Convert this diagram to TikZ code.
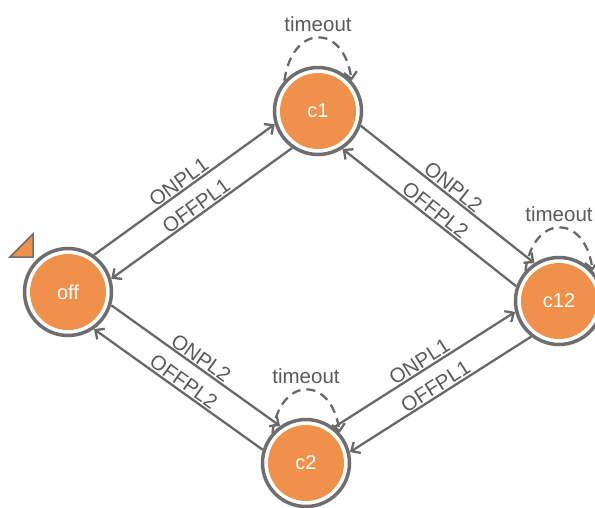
\documentclass[tikz,border=0pt]{standalone}
\usepackage{fontspec}
\setmainfont{Liberation Sans}
\usepackage{tikz}
\usetikzlibrary{arrows.meta,positioning}
\definecolor{StateOrange}{RGB}{239,145,74}
\definecolor{RingGray}{RGB}{110,110,110}
\definecolor{EdgeGray}{RGB}{105,105,105}
\definecolor{TextGray}{RGB}{90,90,90}
\tikzset{
  statenode/.style={circle,draw=RingGray,line width=3.5pt,fill=white,
    minimum size=87pt,inner sep=0pt,text=white,
    font=\fontsize{20}{24}\selectfont,
    path picture={\fill[StateOrange] (path picture bounding box.center) circle[radius=38pt];}},
  arrow/.style={-{Straight Barb[length=7pt,width=13pt]},line width=2.3pt,color=EdgeGray},
  looparrow/.style={arrow,dash pattern=on 9pt off 6pt},
  edgelabel/.style={font=\fontsize{20.5}{24}\selectfont,text=TextGray,inner sep=1pt}
}

\begin{document}
\begin{tikzpicture}[x=1pt,y=-1pt]
  \useasboundingbox (0,0) rectangle (595,507);
  % states
  \node[statenode] (off) at (68,292) {off};
  \node[statenode] (c1) at (318,111) {c1};
  \node[statenode] (c12) at (559,301) {c12};
  \node[statenode] (c2) at (306,463) {c2};
  % initial marker
  \draw[RingGray,line width=1.5pt,fill=StateOrange] (10,257) -- (33,234) -- (33,257) -- cycle;
  % transitions
  \foreach \a/\sa/\b/\sb/\txt in {off/55/c1/197/ONPL1, c1/235/off/17/OFFPL1,
      c1/341/c12/123/ONPL2, c12/161/c1/303/OFFPL2,
      off/343/c2/125/ONPL2, c2/163/off/305/OFFPL2,
      c2/52/c12/194/ONPL1, c12/232/c2/14/OFFPL1}
    \draw[arrow] (\a.\sa) -- node[edgelabel,sloped,above] {\txt} (\b.\sb);
  % self loops
  \foreach \s in {c1,c12,c2}
    \draw[looparrow] (\s.138) .. controls +(82:58pt) and +(98:58pt) .. (\s.42)
      node[edgelabel,pos=0.5,above=4pt] {timeout};
\end{tikzpicture}
\end{document}
